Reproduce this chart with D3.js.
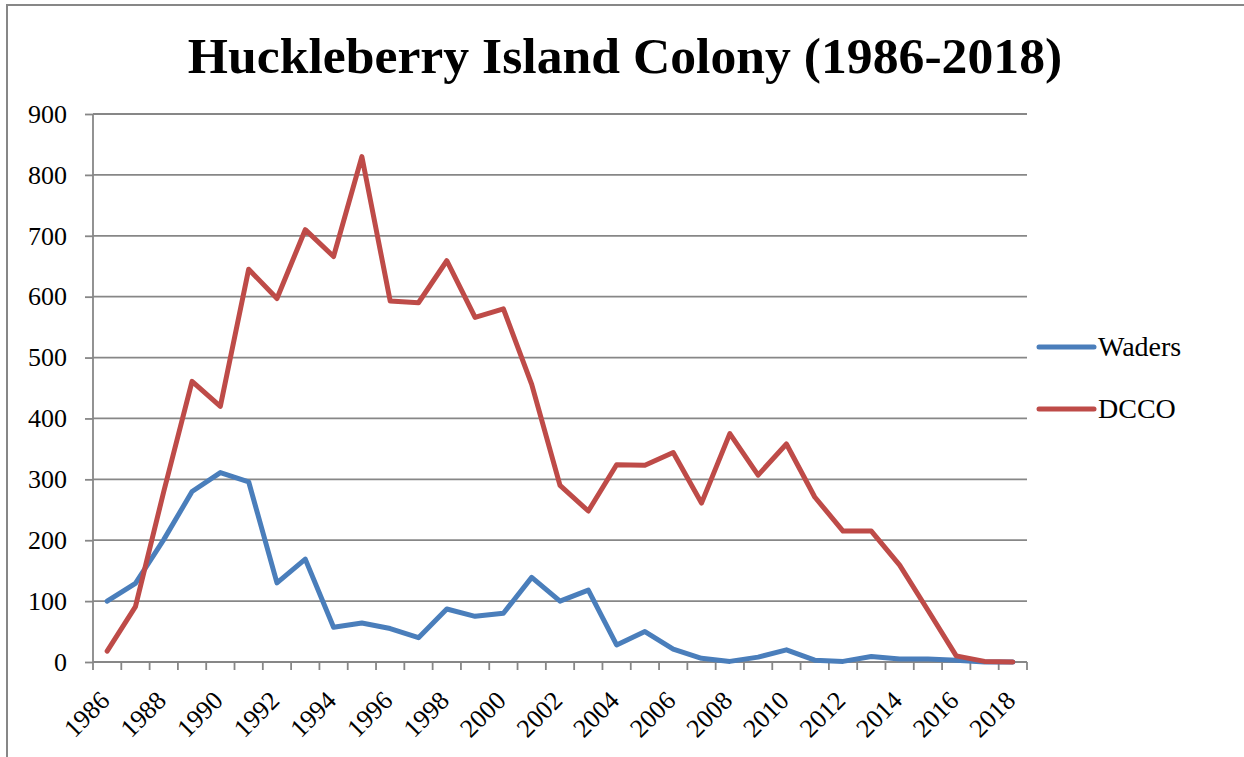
<!DOCTYPE html>
<html>
<head>
<meta charset="utf-8">
<title>Huckleberry Island Colony (1986-2018)</title>
<script src="https://cdn.jsdelivr.net/npm/d3@7"></script>
<style>
  html, body { margin: 0; padding: 0; background: #fff; }
  svg { display: block; }
  .chart text { font-family: 'Liberation Serif', serif; fill: #000; }
</style>
</head>
<body>
<svg class="chart"></svg>
<script>
// Data.
const years = [1986, 1987, 1988, 1989, 1990, 1991, 1992, 1993, 1994, 1995, 1996,
  1997, 1998, 1999, 2000, 2001, 2002, 2003, 2004, 2005, 2006, 2007, 2008, 2009,
  2010, 2011, 2012, 2013, 2014, 2015, 2016, 2017, 2018];
const waders = [100, 129, 201, 280, 311, 296, 130, 169, 57, 64, 55,
  40, 87, 75, 80, 139, 100, 118, 28, 50, 21, 6, 1, 8,
  20, 3, 1, 9, 5, 5, 3, 0, 0];
const dcco = [18, 91, 280, 461, 420, 645, 597, 710, 666, 830, 593,
  590, 659, 566, 580, 456, 290, 248, 324, 323, 344, 261, 375, 307,
  358, 271, 215, 215, 159, 85, 10, 1, 0];
const yTicks = [0, 100, 200, 300, 400, 500, 600, 700, 800, 900];
const xLabels = years.filter((y, i) => i % 2 === 0);
const seriesNames = ['Waders', 'DCCO'];

const width = 1244;
const height = 757;
const plot = { left: 93, right: 1027, top: 114, bottom: 662 };
const colors = { Waders: '#4a7ebb', DCCO: '#be4b48' };
const gridColor = '#878787';
const lineWidth = 5;

const svg = d3.select('.chart')
  .attr('width', width)
  .attr('height', height)
  .attr('viewBox', `0 0 ${width} ${height}`);

// Outer chart border (only top and left show in the picture).
svg.append('path')
  .attr('d', `M7,${height} V5 H${width}`)
  .attr('fill', 'none')
  .attr('stroke', gridColor)
  .attr('stroke-width', 2);

/**
 * Scales: one band per year, points at band centre.
 */
const xScale = d3.scaleBand()
  .domain(years)
  .range([plot.left, plot.right])
  .padding(0);

const yScale = d3.scaleLinear()
  .domain([0, 900])
  .range([plot.bottom, plot.top]);

const xMid = (year) => xScale(year) + xScale.bandwidth() / 2;

// Horizontal gridlines.
svg.append('g')
  .selectAll('line')
  .data(yTicks.filter((t) => t > 0))
  .join('line')
  .attr('x1', plot.left)
  .attr('x2', plot.right)
  .attr('y1', (d) => yScale(d))
  .attr('y2', (d) => yScale(d))
  .attr('stroke', gridColor)
  .attr('stroke-width', 1.8);

// Y axis.
const yAxis = d3.axisLeft(yScale)
  .tickValues(yTicks)
  .tickSize(8)
  .tickPadding(18);

const yAxisG = svg.append('g')
  .attr('transform', `translate(${plot.left},0)`)
  .call(yAxis)
  .attr('font-family', null)
  .attr('font-size', null);
yAxisG.select('.domain').remove();
yAxisG.selectAll('.tick line')
  .attr('stroke', gridColor)
  .attr('stroke-width', 1.8);
yAxisG.selectAll('.tick text')
  .attr('fill', '#000')
  .style('font-size', '26px');
svg.append('line')
  .attr('x1', plot.left)
  .attr('x2', plot.left)
  .attr('y1', plot.top)
  .attr('y2', plot.bottom)
  .attr('stroke', gridColor)
  .attr('stroke-width', 1.8);

// X axis: line plus tick marks on band edges.
svg.append('line')
  .attr('x1', plot.left)
  .attr('x2', plot.right)
  .attr('y1', plot.bottom)
  .attr('y2', plot.bottom)
  .attr('stroke', gridColor)
  .attr('stroke-width', 1.8);

const edges = years.map((y) => xScale(y)).concat([xScale(years[years.length - 1]) + xScale.bandwidth()]);
svg.append('g')
  .selectAll('line')
  .data(edges)
  .join('line')
  .attr('x1', (d) => d)
  .attr('x2', (d) => d)
  .attr('y1', plot.bottom)
  .attr('y2', plot.bottom + 8)
  .attr('stroke', gridColor)
  .attr('stroke-width', 1.8);

// Rotated year labels, every other year.
svg.append('g')
  .selectAll('text')
  .data(xLabels)
  .join('text')
  .attr('transform', (d) => `translate(${xMid(d) + 4},${plot.bottom + 40}) rotate(-45)`)
  .attr('text-anchor', 'end')
  .style('font-size', '26px')
  .text((d) => d);

// Lines.
const lineGenerator = d3.line()
  .x((d) => xMid(d[0]))
  .y((d) => yScale(d[1]));

const seriesData = {
  Waders: years.map((y, i) => [y, waders[i]]),
  DCCO: years.map((y, i) => [y, dcco[i]]),
};

seriesNames.forEach((name) => {
  svg.append('path')
    .datum(seriesData[name])
    .attr('d', lineGenerator)
    .attr('fill', 'none')
    .attr('stroke', colors[name])
    .attr('stroke-width', lineWidth)
    .attr('stroke-linejoin', 'round')
    .attr('stroke-linecap', 'round');
});

// Legend.
const legend = svg.append('g')
  .selectAll('g')
  .data(seriesNames)
  .join('g')
  .attr('transform', (d, i) => `translate(1039,${347 + i * 62})`);

legend.append('line')
  .attr('x1', 0)
  .attr('x2', 55)
  .attr('stroke', (d) => colors[d])
  .attr('stroke-width', lineWidth)
  .attr('stroke-linecap', 'round');

legend.append('text')
  .attr('x', 59)
  .attr('y', 9)
  .style('font-size', '28px')
  .text((d) => d);

// Title, sized so it spans the same width as the reference.
const title = svg.append('text')
  .attr('x', 625)
  .attr('y', 73)
  .attr('text-anchor', 'middle')
  .style('font-weight', 'bold')
  .style('font-size', '48px')
  .text('Huckleberry Island Colony (1986-2018)');

const titleWidth = title.node().getComputedTextLength();
title.style('font-size', `${(48 * 875 / titleWidth).toFixed(1)}px`);
</script>
</body>
</html>
